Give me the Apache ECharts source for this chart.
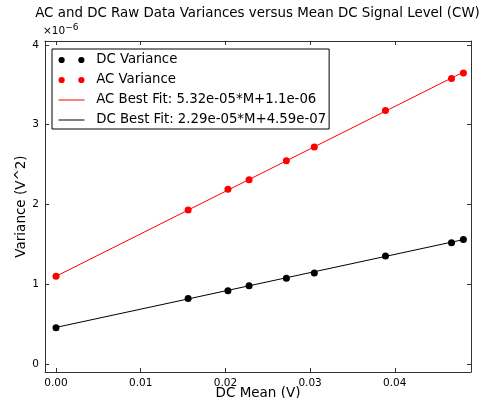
<!DOCTYPE html>
<html>
<head>
<meta charset="utf-8">
<script src="https://cdn.jsdelivr.net/npm/echarts@6/dist/echarts.min.js"></script>
<style>
  html, body { margin: 0; padding: 0; background: #fff; }
  #chart { width: 483px; height: 398px; }
</style>
</head>
<body>
<div id="chart"></div>
<script>
// data (variance in units of 1e-6 V^2)
const dcMean = [0, 0.0156, 0.0203, 0.0228, 0.0272, 0.0305, 0.0389, 0.0467, 0.0481];
const acVar  = [1.10, 1.93, 2.19, 2.31, 2.55, 2.72, 3.18, 3.58, 3.65];
const dcVar  = [0.455, 0.82, 0.92, 0.98, 1.075, 1.14, 1.355, 1.52, 1.56];

// best-fit lines, end points
const fitX  = [0, 0.0481];
const acFit = [1.10, 3.66];
const dcFit = [0.459, 1.56];

const xTicks = [0, 0.01, 0.02, 0.03, 0.04];
const yTicks = [0, 1, 2, 3, 4];

const FONT = 'DejaVu Sans';
const AXIS_COLOR = '#333';

const chart = echarts.init(document.getElementById('chart'), null, { renderer: 'canvas' });

const pairs = (xs, ys) => xs.map((x, i) => [x, ys[i]]);

// shared axis look (matplotlib-ish: frame + inward ticks)
function xAxis(pos, labels) {
  return {
    type: 'value', position: pos, min: -0.0013, max: 0.049,
    axisLine: { show: true, onZero: false, lineStyle: { color: AXIS_COLOR, width: 1 } },
    axisTick: { show: true, inside: true, length: 4, customValues: xTicks, lineStyle: { color: AXIS_COLOR } },
    axisLabel: {
      show: labels, customValues: xTicks, margin: 6,
      color: '#000', fontFamily: FONT, fontSize: 10.5,
      formatter: v => v.toFixed(2)
    },
    splitLine: { show: false },
    name: labels ? 'DC Mean (V)' : '', nameLocation: 'middle', nameGap: 14, nameMoveOverlap: false,
    nameTextStyle: { color: '#000', fontFamily: FONT, fontSize: 13.5 }
  };
}
function yAxis(pos, labels) {
  return {
    type: 'value', position: pos, min: -0.1, max: 4.05,
    axisLine: { show: true, onZero: false, lineStyle: { color: AXIS_COLOR, width: 1 } },
    axisTick: { show: true, inside: true, length: 4, customValues: yTicks, lineStyle: { color: AXIS_COLOR } },
    axisLabel: {
      show: labels, customValues: yTicks, margin: 6,
      color: '#000', fontFamily: FONT, fontSize: 10.5,
      formatter: v => String(Math.round(v))
    },
    splitLine: { show: false },
    name: labels ? 'Variance (V^2)' : '', nameLocation: 'middle', nameGap: 17, nameMoveOverlap: false,
    nameTextStyle: { color: '#000', fontFamily: FONT, fontSize: 13.5 }
  };
}

const twoDots = 'path://M0.5,3.5a3,3 0 1,0 6,0a3,3 0 1,0 -6,0zM19.5,3.5a3,3 0 1,0 6,0a3,3 0 1,0 -6,0z';

const option = {
  animation: false,
  backgroundColor: '#fff',
  graphic: [{
    type: 'text', x: 257.5, y: 7,
    style: {
      text: 'AC and DC Raw Data Variances versus Mean DC Signal Level (CW)',
      font: '13.4px "DejaVu Sans"', fill: '#000', align: 'center', verticalAlign: 'top'
    }
  }, {
    type: 'text', left: 43, top: 23,
    style: {
      text: '×10{sup|−6}',
      font: '10.5px "DejaVu Sans"', fill: '#000',
      rich: { sup: { fontSize: 9, fontFamily: FONT, verticalAlign: 'top', padding: [0, 0, 7, 0] } }
    }
  }],
  grid: { left: 45, right: 12, top: 41, bottom: 26, outerBoundsMode: 'none', containLabel: false },
  xAxis: [xAxis('bottom', true), xAxis('top', false)],
  yAxis: [yAxis('left', true), yAxis('right', false)],
  legend: {
    orient: 'vertical', left: 52, top: 49,
    padding: [4, 3, 2, 6], itemGap: 6,
    itemWidth: 26, itemHeight: 7,
    borderColor: '#000', borderWidth: 1, borderRadius: 0,
    backgroundColor: '#fff',
    formatter: n => '\u2002' + n,
    textStyle: { fontFamily: FONT, fontSize: 13.3, color: '#000', lineHeight: 14 },
    data: [
      { name: 'DC Variance', icon: twoDots },
      { name: 'AC Variance', icon: twoDots },
      { name: 'AC Best Fit: 5.32e-05*M+1.1e-06', itemStyle: { opacity: 0 }, lineStyle: { width: 1 } },
      { name: 'DC Best Fit: 2.29e-05*M+4.59e-07', itemStyle: { opacity: 0 }, lineStyle: { width: 1 } }
    ]
  },
  series: [
    {
      name: 'AC Best Fit: 5.32e-05*M+1.1e-06', type: 'line', symbol: 'none',
      data: pairs(fitX, acFit), lineStyle: { color: '#ff0000', width: 1 }, itemStyle: { color: '#ff0000' }
    },
    {
      name: 'DC Best Fit: 2.29e-05*M+4.59e-07', type: 'line', symbol: 'none',
      data: pairs(fitX, dcFit), lineStyle: { color: '#000', width: 1 }, itemStyle: { color: '#000' }
    },
    {
      name: 'DC Variance', type: 'scatter', symbolSize: 7,
      data: pairs(dcMean, dcVar), itemStyle: { color: '#000', opacity: 1 }
    },
    {
      name: 'AC Variance', type: 'scatter', symbolSize: 7,
      data: pairs(dcMean, acVar), itemStyle: { color: '#ff0000', opacity: 1 }
    }
  ]
};

chart.setOption(option);
</script>
</body>
</html>
